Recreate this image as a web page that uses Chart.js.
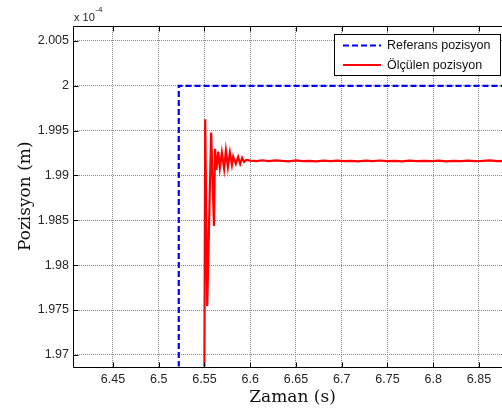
<!DOCTYPE html>
<html>
<head>
<meta charset="utf-8">
<script src="https://cdn.jsdelivr.net/npm/chart.js@4"></script>
<style>
  html, body { margin: 0; padding: 0; background: #fff; overflow: hidden; width: 502px; height: 412px; }
  #wrap { position: absolute; left: 0; top: 0; width: 520px; height: 412px; }
</style>
</head>
<body>
<div id="wrap"><canvas id="c" width="520" height="412"></canvas></div>
<script>
// ---- data (position values in units of 1e-4 m) ----
const refLabel = 'Referans pozisyon';
const measLabel = 'Ölçülen pozisyon';
const refTime = [6.40, 6.5219, 6.5219, 6.89];
const refPos  = [1.960, 1.960, 2.000, 2.000];

const measTime = [6.5497, 6.5508, 6.5530, 6.5573, 6.5604, 6.5615, 6.5630, 6.5650, 6.5668, 6.5690,
  6.5715, 6.5734, 6.5756, 6.5778, 6.5800, 6.5814, 6.5843, 6.5868, 6.5890, 6.5912, 6.5934, 6.5956,
  6.600, 6.607, 6.613, 6.620, 6.628, 6.635, 6.642, 6.650, 6.657, 6.665, 6.672, 6.680, 6.688, 6.695,
  6.703, 6.710, 6.718, 6.726, 6.734, 6.742, 6.750, 6.758, 6.766, 6.774, 6.782, 6.790, 6.798, 6.806,
  6.814, 6.822, 6.830, 6.838, 6.846, 6.854, 6.862, 6.870, 6.878, 6.886];
const measPos = [1.9620, 1.99627, 1.97546, 1.99478, 1.98438, 1.99296, 1.99062, 1.99266, 1.99084, 1.99255,
  1.99073, 1.99277, 1.99095, 1.99255, 1.99118, 1.99210, 1.99129, 1.99207, 1.99129, 1.99196, 1.99151, 1.99173,
  1.99165, 1.99160, 1.99170, 1.99160, 1.99168, 1.99162, 1.99158, 1.99168, 1.99160, 1.99163, 1.99158, 1.99165, 1.99160, 1.99166,
  1.99160, 1.99163, 1.99158, 1.99165, 1.99160, 1.99167, 1.99160, 1.99162, 1.99158, 1.99165, 1.99160, 1.99163, 1.99160, 1.99166,
  1.99158, 1.99162, 1.99160, 1.99165, 1.99160, 1.99163, 1.99168, 1.99160, 1.99163, 1.99160];

const xTickValues = [6.45, 6.5, 6.55, 6.6, 6.65, 6.7, 6.75, 6.8, 6.85];
const yTickValues = [1.97, 1.975, 1.98, 1.985, 1.99, 1.995, 2, 2.005];
const xLabel = 'Zaman (s)';
const yLabel = 'Pozisyon (m)';
const expBase = 'x 10';
const expPow = '-4';

const toXY = (xs, ys) => xs.map((x, i) => ({x: x, y: ys[i]}));
const fmt = v => String(+(+v).toFixed(3));

const frameAndLegend = {
  id: 'frameAndLegend',
  afterDraw(chart) {
    const ctx = chart.ctx;
    const a = chart.chartArea;
    const xs = chart.scales.x, ys = chart.scales.y;
    ctx.save();
    ctx.strokeStyle = '#000';
    ctx.lineWidth = 1;
    const L = Math.round(a.left) + 0.5, T = Math.round(a.top) + 0.5;
    const R = Math.round(a.right) + 0.5, B = Math.round(a.bottom) + 0.5;
    ctx.beginPath();
    ctx.rect(L, T, R - L, B - T);
    ctx.stroke();
    // inward ticks
    ctx.beginPath();
    xTickValues.forEach(v => {
      const p = Math.round(xs.getPixelForValue(v)) + 0.5;
      ctx.moveTo(p, B); ctx.lineTo(p, B - 5);
      ctx.moveTo(p, T); ctx.lineTo(p, T + 5);
    });
    yTickValues.forEach(v => {
      const p = Math.round(ys.getPixelForValue(v)) + 0.5;
      ctx.moveTo(L, p); ctx.lineTo(L + 5, p);
      ctx.moveTo(R, p); ctx.lineTo(R - 5, p);
    });
    ctx.stroke();
    // exponent label
    ctx.fillStyle = '#222';
    ctx.textBaseline = 'alphabetic';
    ctx.textAlign = 'left';
    ctx.font = '11px "Liberation Sans", Arial, sans-serif';
    ctx.fillText(expBase, 74, 21);
    const w = ctx.measureText(expBase).width;
    ctx.font = '8px "Liberation Sans", Arial, sans-serif';
    ctx.fillText(expPow, 74 + w + 0.5, 12);
    // legend
    const bx = 334.5, by = 34.5, bw = 166, bh = 41;
    ctx.fillStyle = '#fff';
    ctx.fillRect(bx, by, bw, bh);
    ctx.strokeStyle = '#000';
    ctx.lineWidth = 1;
    ctx.strokeRect(bx, by, bw, bh);
    const ds = chart.data.datasets;
    const rows = [45.5, 65];
    ds.forEach((d, i) => {
      ctx.save();
      ctx.strokeStyle = d.borderColor;
      ctx.lineWidth = d.borderWidth;
      ctx.setLineDash(d.borderDash || []);
      ctx.beginPath();
      ctx.moveTo(343, rows[i]);
      ctx.lineTo(381, rows[i]);
      ctx.stroke();
      ctx.restore();
      ctx.fillStyle = '#111';
      ctx.font = '12.5px "Liberation Sans", Arial, sans-serif';
      ctx.textBaseline = 'middle';
      ctx.fillText(d.label, 387, rows[i] + 0.5);
    });
    ctx.restore();
  }
};

new Chart(document.getElementById('c'), {
  type: 'line',
  data: {
    datasets: [
      { label: refLabel, data: toXY(refTime, refPos), borderColor: '#0000ff', borderWidth: 2.2,
        borderDash: [6, 3], pointRadius: 0, tension: 0, fill: false, clip: 0 },
      { label: measLabel, data: toXY(measTime, measPos), borderColor: '#ff0000', borderWidth: 2.2,
        pointRadius: 0, tension: 0, fill: false, clip: 0 }
    ]
  },
  options: {
    responsive: false,
    animation: false,
    devicePixelRatio: 1,
    layout: { padding: { top: 26, right: 8, left: 0, bottom: 0 } },
    plugins: { legend: { display: false }, tooltip: { enabled: false } },
    scales: {
      x: {
        type: 'linear', min: 6.4063, max: 6.8861,
        afterFit(s) { s.height = 45.5; },
        afterBuildTicks(s) { s.ticks = xTickValues.map(v => ({value: v})); },
        grid: { color: '#8a8a8a', lineWidth: 1, drawTicks: false },
        border: { display: false, dash: [1, 1] },
        ticks: { padding: 6, color: '#262626', font: { family: '"Liberation Sans", Arial, sans-serif', size: 12.5 },
          callback: v => fmt(v), maxRotation: 0, autoSkip: false },
        title: { display: true, text: xLabel, color: '#111',
          font: { family: '"DejaVu Serif", serif', size: 17 }, padding: { top: 0, bottom: 4 } }
      },
      y: {
        type: 'linear', min: 1.9687, max: 2.00667,
        afterFit(s) { s.width = 73; },
        afterBuildTicks(s) { s.ticks = yTickValues.map(v => ({value: v})); },
        grid: { color: '#8a8a8a', lineWidth: 1, drawTicks: false },
        border: { display: false, dash: [1, 1] },
        ticks: { padding: 4, color: '#262626', font: { family: '"Liberation Sans", Arial, sans-serif', size: 12.5 },
          callback: v => fmt(v), autoSkip: false },
        title: { display: true, text: yLabel, color: '#111',
          font: { family: '"DejaVu Serif", serif', size: 17 }, padding: { top: 15, bottom: 0 } }
      }
    }
  },
  plugins: [frameAndLegend]
});
</script>
</body>
</html>
